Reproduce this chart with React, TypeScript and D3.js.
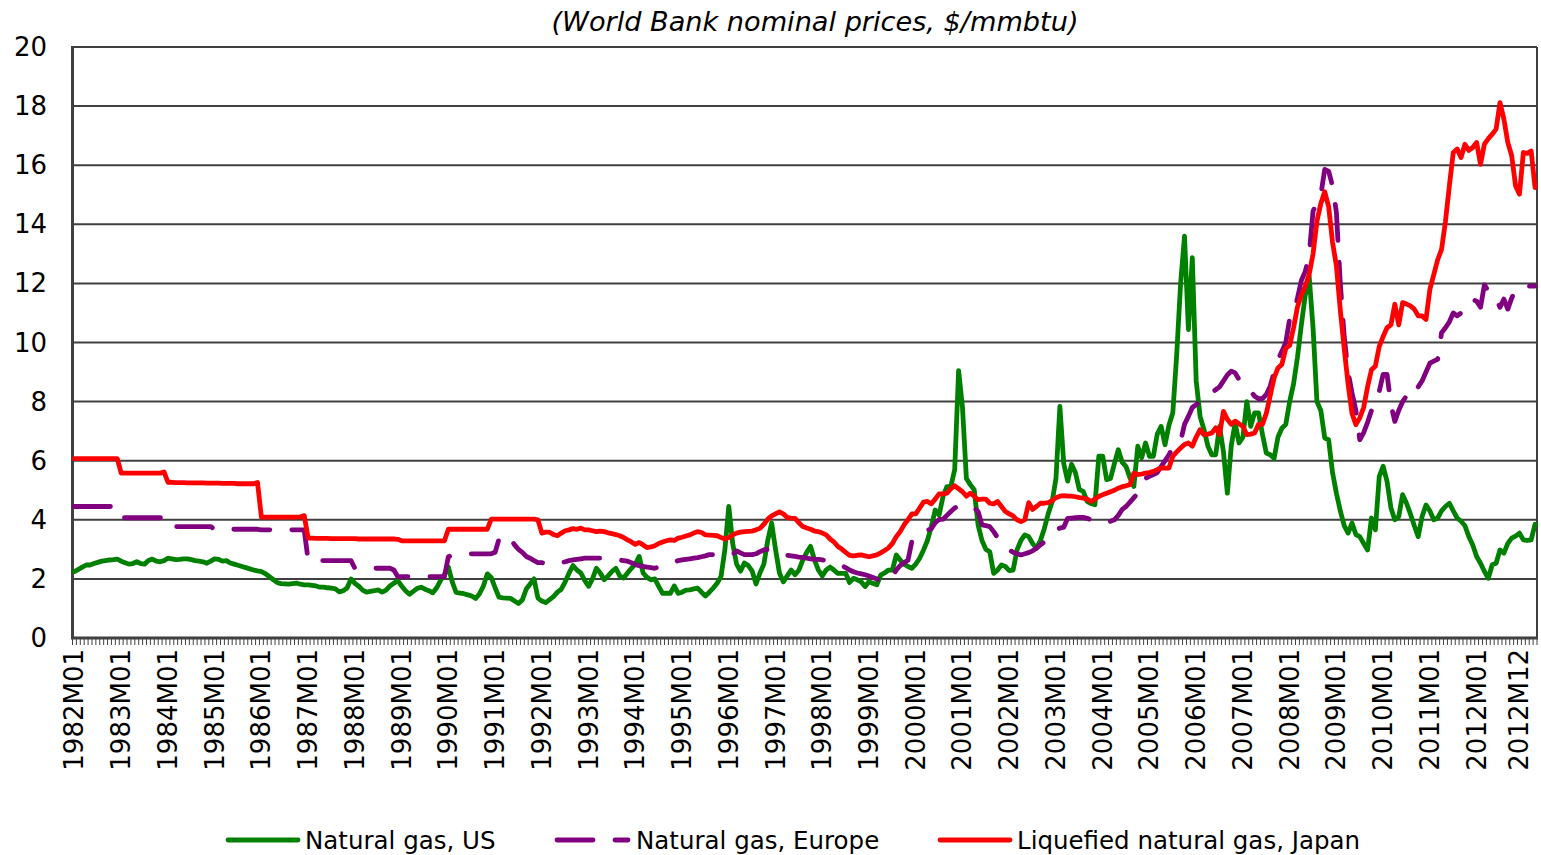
import React from "react";
import * as d3 from "d3";

// monthly prices, $/mmbtu, 1982M01 .. 2013M04 (one line per year)
const usGas = [
  2.25, 2.32, 2.4, 2.47, 2.47, 2.52, 2.56, 2.6, 2.62, 2.64, 2.65, 2.67, // 1982
  2.6, 2.55, 2.5, 2.52, 2.58, 2.52, 2.5, 2.62, 2.67, 2.6, 2.58, 2.62, // 1983
  2.7, 2.68, 2.65, 2.66, 2.68, 2.68, 2.65, 2.62, 2.6, 2.58, 2.53, 2.6, // 1984
  2.68, 2.66, 2.6, 2.62, 2.54, 2.5, 2.46, 2.42, 2.38, 2.34, 2.3, 2.27, // 1985
  2.25, 2.18, 2.08, 1.98, 1.88, 1.84, 1.83, 1.82, 1.84, 1.86, 1.82, 1.8, // 1986
  1.8, 1.78, 1.76, 1.72, 1.72, 1.7, 1.69, 1.66, 1.56, 1.6, 1.69, 2.0, // 1987
  1.85, 1.75, 1.62, 1.55, 1.58, 1.6, 1.63, 1.55, 1.62, 1.76, 1.85, 1.94, // 1988
  1.76, 1.6, 1.48, 1.58, 1.68, 1.72, 1.65, 1.6, 1.53, 1.7, 1.95, 2.15, // 1989
  2.4, 1.9, 1.54, 1.52, 1.5, 1.46, 1.42, 1.34, 1.5, 1.76, 2.17, 2.05, // 1990
  1.7, 1.38, 1.36, 1.35, 1.34, 1.25, 1.17, 1.29, 1.66, 1.83, 2.0, 1.35, // 1991
  1.25, 1.2, 1.3, 1.4, 1.55, 1.65, 1.9, 2.2, 2.45, 2.3, 2.2, 1.95, // 1992
  1.75, 2.0, 2.36, 2.2, 1.97, 2.1, 2.25, 2.36, 2.1, 2.03, 2.2, 2.36, // 1993
  2.5, 2.76, 2.2, 2.05, 1.97, 2.0, 1.75, 1.51, 1.52, 1.51, 1.76, 1.51, // 1994
  1.55, 1.62, 1.63, 1.66, 1.69, 1.55, 1.42, 1.55, 1.69, 1.85, 2.08, 3.0, // 1995
  4.45, 3.2, 2.5, 2.26, 2.54, 2.45, 2.26, 1.83, 2.2, 2.5, 3.3, 3.89, // 1996
  3.0, 2.2, 1.9, 2.1, 2.3, 2.14, 2.3, 2.64, 2.9, 3.1, 2.64, 2.3, // 1997
  2.1, 2.3, 2.4, 2.3, 2.19, 2.19, 2.19, 1.88, 2.02, 1.97, 1.9, 1.74, // 1998
  1.91, 1.85, 1.8, 2.13, 2.2, 2.3, 2.3, 2.81, 2.64, 2.5, 2.42, 2.36, // 1999
  2.5, 2.7, 2.98, 3.3, 3.77, 4.33, 4.16, 4.79, 5.12, 5.12, 5.7, 9.05, // 2000
  7.8, 5.4, 5.19, 5.02, 3.83, 3.3, 3.0, 2.92, 2.19, 2.3, 2.47, 2.42, // 2001
  2.28, 2.3, 2.98, 3.3, 3.49, 3.43, 3.2, 3.04, 3.3, 3.7, 4.2, 4.6, // 2002
  5.4, 7.84, 5.9, 5.31, 5.88, 5.59, 5.02, 4.96, 4.62, 4.55, 4.51, 6.15, // 2003
  6.15, 5.36, 5.4, 5.9, 6.37, 5.95, 5.8, 5.42, 5.13, 6.49, 6.1, 6.6, // 2004
  6.15, 6.15, 6.9, 7.16, 6.54, 7.2, 7.62, 9.6, 12.0, 13.6, 10.44, 12.87, // 2005
  8.7, 7.5, 7.05, 6.5, 6.2, 6.2, 7.16, 6.3, 4.9, 6.5, 7.28, 6.6, // 2006
  6.8, 8.0, 7.16, 7.62, 7.62, 6.9, 6.26, 6.2, 6.08, 6.8, 7.1, 7.23, // 2007
  8.0, 8.6, 9.5, 10.6, 11.6, 12.25, 10.5, 8.0, 7.7, 6.77, 6.71, 5.6, // 2008
  4.9, 4.3, 3.8, 3.55, 3.89, 3.5, 3.43, 3.2, 2.98, 4.06, 3.66, 5.47, // 2009
  5.81, 5.3, 4.4, 4.0, 4.11, 4.85, 4.56, 4.2, 3.8, 3.43, 4.11, 4.5, // 2010
  4.3, 4.0, 4.06, 4.3, 4.45, 4.56, 4.3, 4.06, 3.95, 3.8, 3.43, 3.15, // 2011
  2.76, 2.53, 2.25, 2.02, 2.48, 2.53, 2.98, 2.87, 3.2, 3.38, 3.45, 3.55, // 2012
  3.32, 3.3, 3.32, 3.85, // 2013
];

const europeGas = [
  4.45, 4.45, 4.45, 4.45, 4.45, 4.45, 4.45, 4.45, 4.45, 4.45, 4.45, 4.45, // 1982
  4.07, 4.07, 4.07, 4.07, 4.07, 4.07, 4.07, 4.07, 4.07, 4.07, 4.07, 4.07, // 1983
  3.77, 3.77, 3.77, 3.77, 3.77, 3.77, 3.77, 3.77, 3.77, 3.77, 3.77, 3.77, // 1984
  3.68, 3.68, 3.68, 3.68, 3.68, 3.68, 3.68, 3.68, 3.68, 3.68, 3.68, 3.68, // 1985
  3.66, 3.66, 3.66, 3.66, 3.66, 3.66, 3.66, 3.66, 3.66, 3.66, 3.66, 3.66, // 1986
  2.62, 2.62, 2.62, 2.62, 2.62, 2.62, 2.62, 2.62, 2.62, 2.62, 2.62, 2.62, // 1987
  2.36, 2.36, 2.36, 2.36, 2.36, 2.36, 2.36, 2.36, 2.36, 2.36, 2.3, 2.08, // 1988
  2.08, 2.08, 2.08, 2.08, 2.08, 2.08, 2.08, 2.08, 2.08, 2.08, 2.08, 2.08, // 1989
  2.75, 2.8, 2.82, 2.84, 2.85, 2.85, 2.85, 2.85, 2.85, 2.85, 2.85, 2.85, // 1990
  2.9, 3.35, 3.49, 3.45, 3.35, 3.15, 3.0, 2.9, 2.76, 2.7, 2.62, 2.55, // 1991
  2.55, 2.52, 2.48, 2.5, 2.52, 2.55, 2.58, 2.62, 2.64, 2.66, 2.68, 2.7, // 1992
  2.7, 2.7, 2.7, 2.7, 2.68, 2.67, 2.66, 2.65, 2.64, 2.62, 2.6, 2.55, // 1993
  2.48, 2.45, 2.42, 2.4, 2.38, 2.36, 2.4, 2.44, 2.48, 2.53, 2.57, 2.62, // 1994
  2.64, 2.66, 2.68, 2.7, 2.72, 2.75, 2.78, 2.82, 2.82, 2.82, 2.82, 2.82, // 1995
  2.82, 2.82, 2.95, 2.88, 2.82, 2.82, 2.82, 2.85, 2.92, 2.98, 3.0, 2.98, // 1996
  2.96, 2.9, 2.82, 2.8, 2.78, 2.76, 2.74, 2.73, 2.7, 2.68, 2.66, 2.66, // 1997
  2.64, 2.62, 2.6, 2.57, 2.52, 2.45, 2.38, 2.3, 2.24, 2.2, 2.17, 2.14, // 1998
  2.1, 2.05, 2.0, 1.96, 1.92, 1.95, 2.1, 2.3, 2.45, 2.55, 2.63, 3.27, // 1999
  3.45, 3.55, 3.6, 3.65, 3.7, 3.9, 4.01, 4.02, 4.15, 4.28, 4.4, 4.47, // 2000
  4.5, 4.5, 4.47, 4.4, 4.28, 3.83, 3.8, 3.77, 3.6, 3.4, 3.23, 3.05, // 2001
  2.98, 2.9, 2.85, 2.81, 2.85, 2.89, 2.95, 3.04, 3.15, 3.25, 3.38, 3.55, // 2002
  3.65, 3.72, 3.75, 4.05, 4.06, 4.07, 4.08, 4.08, 4.05, 4.0, 3.97, 3.95, // 2003
  3.92, 3.9, 3.95, 4.0, 4.15, 4.35, 4.45, 4.6, 4.75, 4.9, 5.02, 5.4, // 2004
  5.47, 5.53, 5.6, 5.8, 6.0, 6.2, 6.45, 6.6, 6.66, 7.23, 7.5, 7.8, // 2005
  7.9, 8.01, 8.1, 8.2, 8.3, 8.4, 8.5, 8.7, 8.9, 9.03, 8.97, 8.75, // 2006
  8.63, 8.52, 8.35, 8.18, 8.1, 8.1, 8.24, 8.52, 9.0, 9.42, 9.7, 10.0, // 2007
  10.8, 10.95, 11.5, 12.1, 12.4, 12.95, 14.45, 14.7, 15.0, 15.86, 15.8, 15.3, // 2008
  14.4, 12.0, 10.2, 9.0, 8.3, 7.7, 6.71, 6.95, 7.3, 7.7, 8.0, 8.35, // 2009
  8.92, 8.92, 7.9, 7.33, 7.7, 8.0, 8.2, 8.35, 8.24, 8.5, 8.7, 9.0, // 2010
  9.3, 9.37, 9.43, 10.33, 10.5, 10.7, 11.0, 10.9, 11.0, 11.3, 11.4, 11.45, // 2011
  11.4, 11.19, 11.95, 11.74, 11.7, 11.5, 11.19, 11.47, 11.13, 11.5, 11.8, 11.85, // 2012
  11.85, 11.9, 11.91, 11.91, // 2013
];

const japanLng = [
  6.07, 6.07, 6.07, 6.07, 6.07, 6.07, 6.07, 6.07, 6.07, 6.07, 6.07, 6.07, // 1982
  5.58, 5.58, 5.58, 5.58, 5.58, 5.58, 5.58, 5.58, 5.58, 5.58, 5.58, 5.62, // 1983
  5.27, 5.27, 5.26, 5.26, 5.26, 5.25, 5.25, 5.25, 5.25, 5.25, 5.24, 5.24, // 1984
  5.24, 5.24, 5.23, 5.23, 5.23, 5.23, 5.22, 5.22, 5.22, 5.22, 5.22, 5.26, // 1985
  4.09, 4.09, 4.09, 4.09, 4.09, 4.09, 4.09, 4.09, 4.09, 4.09, 4.1, 4.14, // 1986
  3.38, 3.38, 3.37, 3.37, 3.37, 3.37, 3.36, 3.36, 3.36, 3.36, 3.36, 3.36, // 1987
  3.36, 3.35, 3.35, 3.35, 3.35, 3.35, 3.35, 3.35, 3.35, 3.35, 3.35, 3.34, // 1988
  3.29, 3.29, 3.29, 3.29, 3.29, 3.29, 3.29, 3.29, 3.29, 3.29, 3.29, 3.29, // 1989
  3.68, 3.68, 3.68, 3.68, 3.68, 3.68, 3.68, 3.68, 3.68, 3.68, 3.68, 4.02, // 1990
  4.02, 4.02, 4.02, 4.02, 4.02, 4.02, 4.02, 4.02, 4.02, 4.02, 4.02, 4.0, // 1991
  3.55, 3.58, 3.58, 3.5, 3.46, 3.55, 3.63, 3.66, 3.7, 3.68, 3.72, 3.66, // 1992
  3.66, 3.63, 3.6, 3.62, 3.6, 3.56, 3.53, 3.5, 3.46, 3.4, 3.32, 3.25, // 1993
  3.17, 3.23, 3.15, 3.06, 3.08, 3.12, 3.2, 3.25, 3.29, 3.32, 3.3, 3.38, // 1994
  3.41, 3.45, 3.49, 3.55, 3.6, 3.57, 3.49, 3.48, 3.47, 3.46, 3.4, 3.35, // 1995
  3.4, 3.49, 3.55, 3.58, 3.6, 3.61, 3.62, 3.66, 3.71, 3.85, 4.02, 4.13, // 1996
  4.2, 4.27, 4.2, 4.08, 4.06, 4.05, 3.9, 3.77, 3.72, 3.68, 3.62, 3.6, // 1997
  3.55, 3.49, 3.35, 3.25, 3.1, 3.01, 2.9, 2.8, 2.78, 2.8, 2.81, 2.78, // 1998
  2.75, 2.78, 2.81, 2.88, 2.96, 3.05, 3.2, 3.43, 3.6, 3.83, 4.0, 4.2, // 1999
  4.2, 4.4, 4.6, 4.62, 4.54, 4.7, 4.88, 4.88, 4.9, 5.05, 5.15, 5.05, // 2000
  4.95, 4.8, 4.9, 4.8, 4.68, 4.7, 4.7, 4.56, 4.54, 4.62, 4.45, 4.28, // 2001
  4.2, 4.13, 4.0, 3.94, 4.0, 4.58, 4.35, 4.45, 4.56, 4.56, 4.58, 4.65, // 2002
  4.75, 4.8, 4.82, 4.8, 4.8, 4.78, 4.75, 4.73, 4.7, 4.62, 4.7, 4.79, // 2003
  4.85, 4.9, 4.95, 5.0, 5.07, 5.12, 5.15, 5.19, 5.58, 5.53, 5.55, 5.58, // 2004
  5.6, 5.64, 5.7, 5.75, 5.75, 5.75, 6.15, 6.3, 6.43, 6.55, 6.6, 6.49, // 2005
  6.8, 7.05, 6.88, 6.9, 6.94, 7.11, 6.88, 7.67, 7.4, 7.23, 7.34, 7.25, // 2006
  7.16, 6.88, 6.9, 6.94, 7.23, 7.23, 7.6, 8.2, 8.8, 9.14, 9.26, 9.8, // 2007
  9.9, 10.5, 11.2, 11.6, 11.9, 12.3, 13.0, 14.1, 14.7, 15.1, 14.6, 13.4, // 2008
  12.59, 11.1, 9.8, 8.6, 7.6, 7.22, 7.45, 7.8, 8.5, 9.08, 9.2, 9.87, // 2009
  10.2, 10.5, 10.6, 11.3, 10.6, 11.35, 11.3, 11.24, 11.13, 10.9, 10.9, 10.78, // 2010
  11.8, 12.3, 12.8, 13.15, 14.1, 15.3, 16.43, 16.55, 16.26, 16.71, 16.5, 16.6, // 2011
  16.77, 16.03, 16.71, 16.9, 17.05, 17.22, 18.12, 17.56, 16.77, 16.32, 15.3, 15.02, // 2012
  16.43, 16.4, 16.48, 15.24, // 2013
];

const xTickLabels = [
  "1982M01", "1983M01", "1984M01", "1985M01", "1986M01", "1987M01", "1988M01",
  "1989M01", "1990M01", "1991M01", "1992M01", "1993M01", "1994M01", "1995M01",
  "1996M01", "1997M01", "1998M01", "1999M01", "2000M01", "2001M01", "2002M01",
  "2003M01", "2004M01", "2005M01", "2006M01", "2007M01", "2008M01", "2009M01",
  "2010M01", "2011M01", "2012M01", "2012M12",
];
const yTicks = [0, 2, 4, 6, 8, 10, 12, 14, 16, 18, 20];

const seriesNames = ["Natural gas, US", "Natural gas, Europe", "Liquefied natural gas, Japan"];

// month labels for the category axis
const months: string[] = [];
for (let yr = 1982; months.length < usGas.length; yr++) {
  for (let m = 1; m <= 12 && months.length < usGas.length; m++) {
    months.push(`${yr}M${String(m).padStart(2, "0")}`);
  }
}

const W = 1541;
const H = 855;
const left = 72.5;
const right = 1537;
const top = 47;
const bottom = 638;
const font = "'DejaVu Sans', Verdana, sans-serif";
const gridColor = "#404040";

const App = () => {
  const x = d3.scaleBand<string>().domain(months).range([left, right]).padding(0);
  const cx = (m: string) => (x(m) as number) + x.bandwidth() / 2;
  const y = d3.scaleLinear().domain([0, 20]).range([bottom, top]);

  const line = d3
    .line<number>()
    .x((_, i) => cx(months[i]))
    .y((d) => y(d));

  const series = [
    { name: seriesNames[0], values: usGas, color: "#008000", dash: undefined },
    { name: seriesNames[1], values: europeGas, color: "#800080", dash: "36 22" },
    { name: seriesNames[2], values: japanLng, color: "#ff0000", dash: undefined },
  ];

  const legend = [
    { x1: 228, x2: 298, tx: 305 },
    { x1: 557, x2: 628, tx: 636 },
    { x1: 940, x2: 1010, tx: 1017 },
  ];

  return (
    <svg
      width={W}
      height={H}
      style={{ position: "absolute", left: 0, top: 0, background: "#fff" }}
      fontFamily={font}
    >
      {/* title */}
      <text
        x={815}
        y={22}
        textAnchor="middle"
        dominantBaseline="central"
        fontSize={26}
        fontStyle="italic"
        textLength={527}
        lengthAdjust="spacingAndGlyphs"
      >
        (World Bank nominal prices, $/mmbtu)
      </text>

      {/* gridlines and y labels */}
      {yTicks.map((t) => (
        <g key={t}>
          {t > 0 && (
            <line x1={left} x2={right} y1={y(t)} y2={y(t)} stroke={gridColor} strokeWidth={2} />
          )}
          <text x={47} y={y(t)} textAnchor="end" dominantBaseline="central" fontSize={26}>
            {t}
          </text>
        </g>
      ))}

      {/* plot frame */}
      <line x1={right} x2={right} y1={top} y2={bottom} stroke={gridColor} strokeWidth={2} />
      <line x1={left} x2={left} y1={top - 1} y2={bottom} stroke={gridColor} strokeWidth={3} />

      {/* category ticks */}
      {months.map((m) => (
        <line
          key={m}
          x1={x(m)}
          x2={x(m)}
          y1={bottom}
          y2={bottom + 7}
          stroke={gridColor}
          strokeWidth={1}
        />
      ))}
      <line x1={right} x2={right} y1={bottom} y2={bottom + 7} stroke={gridColor} strokeWidth={1} />
      <line x1={left - 1.5} x2={right + 1} y1={bottom} y2={bottom} stroke={gridColor} strokeWidth={3} />

      {/* x labels */}
      {xTickLabels.map((lab) => (
        <text
          key={lab}
          transform={`translate(${cx(lab)},${bottom + 11}) rotate(-90)`}
          textAnchor="end"
          dominantBaseline="central"
          fontSize={26}
        >
          {lab}
        </text>
      ))}

      {/* series */}
      {series.map((s) => (
        <path
          key={s.name}
          d={line(s.values) || ""}
          fill="none"
          stroke={s.color}
          strokeWidth={4.8}
          strokeLinejoin="round"
          strokeLinecap="round"
          strokeDasharray={s.dash}
        />
      ))}

      {/* legend */}
      {series.map((s, i) => (
        <g key={s.name}>
          <line
            x1={legend[i].x1}
            x2={legend[i].x2}
            y1={840}
            y2={840}
            stroke={s.color}
            strokeWidth={4.8}
            strokeLinecap="round"
            strokeDasharray={s.dash}
          />
          <text x={legend[i].tx} y={840} dominantBaseline="central" fontSize={24.5}>
            {s.name}
          </text>
        </g>
      ))}
    </svg>
  );
};

export default App;
